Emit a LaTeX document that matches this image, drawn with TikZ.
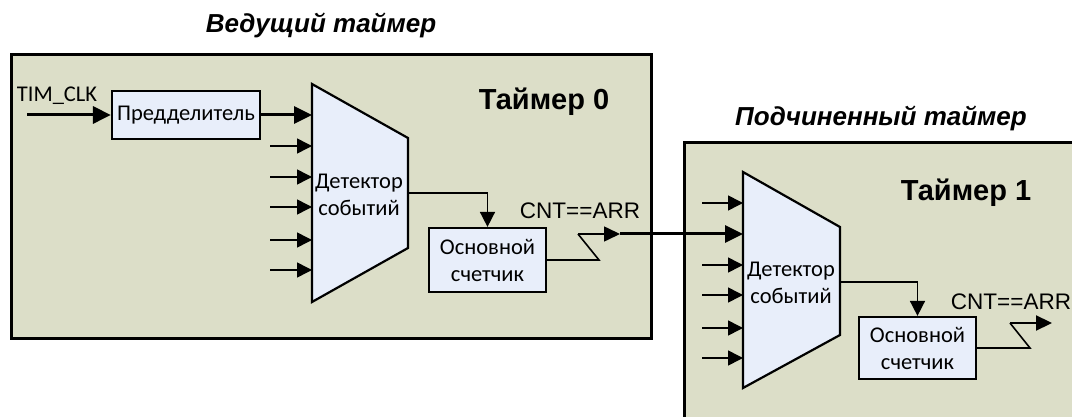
\documentclass[tikz,border=0pt]{standalone}
\usepackage{fontspec}
\setmainfont{Liberation Sans}
\newfontfamily\lblfont{Carlito}
\usetikzlibrary{arrows.meta}
\definecolor{bgc}{RGB}{220,222,200}
\definecolor{blk}{RGB}{232,238,250}
\begin{document}
\begin{tikzpicture}[x=1pt,y=-1pt,
  timerbox/.style={draw=black, line width=2.8pt, fill=bgc, anchor=north west, inner sep=0pt},
  block/.style={draw=black, line width=2.2pt, fill=blk, inner sep=0pt, align=center, font=\lblfont\fontsize{22.5}{27}\selectfont},
  lbl/.style={inner sep=0pt, font=\lblfont\fontsize{22.5}{27}\selectfont},
  arrlbl/.style={inner sep=0pt, font=\fontsize{22.5}{27}\selectfont},
  title/.style={inner sep=0pt, font=\bfseries\itshape\fontsize{26}{30}\selectfont},
  tname/.style={inner sep=0pt, font=\bfseries\fontsize{29}{34}\selectfont},
  thinarr/.style={line width=1.6pt, -{Triangle[length=15pt,width=15pt]}},
  thickarr/.style={line width=3pt, -{Triangle[length=18pt,width=17pt]}},
  wire/.style={line width=1.6pt},
  trap/.style={draw=black, line width=2.2pt, fill=blk, line join=miter}]
\path[use as bounding box] (0,0) rectangle (1072,417);
\clip (0,0) rectangle (1072,417);

% titles
\node[title] (ttl0) at (321,25) {Ведущий таймер};
\node[title] (ttl1) at (881,118) {Подчиненный таймер};

% timer boxes
\node[timerbox, minimum width=640pt, minimum height=284pt] (t0) at (10,53) {};
\node[timerbox, minimum width=420pt, minimum height=300pt] (t1) at (683,141) {};
\node[tname] (tn0) at (544,102) {Таймер 0};
\node[tname] (tn1) at (966,193) {Таймер 1};

% ---------- Timer 0 ----------
\node[lbl] (clk) at (57,96) {TIM\_CLK};
\coordinate (clkin) at (27,115);
\node[block, minimum width=148pt, minimum height=48pt] (pre) at (186,115) {Предделитель};
\draw[thickarr] (clkin) -- (pre.west);

\coordinate (d0a) at (312,84);
\coordinate (d0b) at (408,138);
\coordinate (d0c) at (408,248);
\coordinate (d0d) at (312,302);
\draw[trap] (d0a) -- (d0b) -- (d0c) -- (d0d) -- cycle;
\node[block, draw=none, fill=none] (det0) at (359,195) {Детектор\\событий};

\coordinate (d0i1) at (312,115);
\draw[thickarr] (pre.east) -- (d0i1);
\foreach \y [count=\i] in {146,177,207,240,270} {
  \coordinate (s0\i) at (270,\y);
  \coordinate (e0\i) at (312,\y);
  \draw[thinarr] (s0\i) -- (e0\i);
}

\node[block, minimum width=117pt, minimum height=64pt] (cnt0) at (487.5,260) {Основной\\счетчик};
\coordinate (d0o) at (408,193);
\draw[thinarr] (d0o) -| (cnt0.north);

\coordinate (z0a) at (599,260);
\coordinate (z0b) at (578,234);
\coordinate (j0) at (620,234);
\draw[wire, line join=miter] (cnt0.east) -- (z0a) -- (z0b);
\draw[wire, -{Triangle[length=16pt,width=15pt]}] (z0b) -- (j0);
\node[arrlbl] (cmp0) at (580,211) {CNT==ARR};

% ---------- Timer 1 ----------
\coordinate (d1a) at (743,172);
\coordinate (d1b) at (840,227);
\coordinate (d1c) at (840,335);
\coordinate (d1d) at (743,388);
\draw[trap] (d1a) -- (d1b) -- (d1c) -- (d1d) -- cycle;
\node[block, draw=none, fill=none] (det1) at (791,283) {Детектор\\событий};

\coordinate (d1i2) at (743,234);
\draw[thickarr] (j0) -- (d1i2);
\foreach \y [count=\i] in {203,265,295,328,358} {
  \coordinate (s1\i) at (702,\y);
  \coordinate (e1\i) at (743,\y);
  \draw[thinarr] (s1\i) -- (e1\i);
}

\node[block, minimum width=117pt, minimum height=62pt] (cnt1) at (917.5,348) {Основной\\счетчик};
\coordinate (d1o) at (840,282);
\draw[thinarr] (d1o) -| (cnt1.north);

\coordinate (z1a) at (1030,348);
\coordinate (z1b) at (1010,323);
\coordinate (out1) at (1052,323);
\draw[wire, line join=miter] (cnt1.east) -- (z1a) -- (z1b);
\draw[line width=2.2pt, -{Triangle[length=16pt,width=15pt]}] (z1b) -- (out1);
\node[arrlbl] (cmp1) at (1011,302) {CNT==ARR};
\end{tikzpicture}
\end{document}
